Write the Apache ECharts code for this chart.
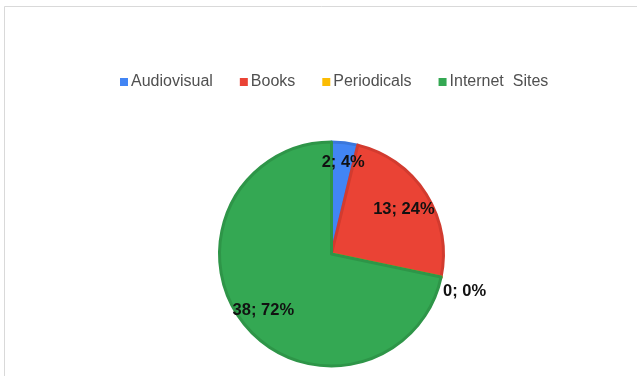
<!DOCTYPE html>
<html>
<head>
<meta charset="utf-8">
<style>
  html, body { margin: 0; padding: 0; background: #ffffff; }
  #chart { width: 637px; height: 376px; }
</style>
<script src="https://cdn.jsdelivr.net/npm/echarts@6/dist/echarts.min.js"></script>
</head>
<body>
<div id="chart"></div>
<script>
// Resource types and their counts
const categories = ['Audiovisual', 'Books', 'Periodicals', 'Internet  Sites'];
const counts = [2, 13, 0, 38];
const sliceColors = ['#4285F4', '#EA4335', '#FBBC04', '#34A853'];
const edgeColors = ['#3b77db', '#d23b2f', '#e0a800', '#2e9548'];

const center = [331.5, 254];
const outerR = 112;

const pieData = categories.map((name, i) => ({
  name: name,
  value: counts[i],
  itemStyle: { color: sliceColors[i], borderColor: edgeColors[i], borderWidth: 3 }
}));

// Transparent ring that only carries the value labels, so they sit near the rim
const labelNudges = [[1, -2], [-4, 4], null, [2, 0]];
const labelData = categories.map((name, i) => {
  const item = {
    name: name,
    value: counts[i],
    itemStyle: { color: 'rgba(0,0,0,0)', borderWidth: 0 }
  };
  if (counts[i] === 0) {
    item.label = { position: 'outside', offset: [-5, 14] };
    item.labelLine = { show: false, length: 2, length2: 0 };
  } else if (labelNudges[i]) {
    item.label = { offset: labelNudges[i] };
  }
  return item;
});

const chart = echarts.init(document.getElementById('chart'), null, { renderer: 'canvas' });
chart.setOption({
  animation: false,
  backgroundColor: '#ffffff',
  graphic: [{
    type: 'rect',
    shape: { x: 4.5, y: 6.5, width: 700, height: 400 },
    style: { fill: 'none', stroke: '#d9d9d9', lineWidth: 1 },
    silent: true
  }],
  legend: {
    data: categories,
    left: 115,
    top: 69,
    icon: 'rect',
    itemWidth: 8,
    itemHeight: 8,
    itemGap: 27,
    itemStyle: { borderWidth: 0 },
    textStyle: { fontFamily: 'Liberation Sans, Arial, sans-serif', fontSize: 16, color: '#505050', padding: [0, 0, 0, -2] }
  },
  series: [
    {
      type: 'pie',
      center: center,
      radius: [0, outerR],
      startAngle: 90,
      clockwise: true,
      avoidLabelOverlap: false,
      stillShowZeroSum: true,
      label: { show: false },
      labelLine: { show: false },
      emphasis: { disabled: true },
      data: pieData
    },
    {
      type: 'pie',
      center: center,
      radius: [outerR * 0.56, outerR],
      startAngle: 90,
      clockwise: true,
      silent: true,
      avoidLabelOverlap: false,
      percentPrecision: 0,
      label: {
        show: true,
        position: 'inside',
        formatter: '{c}; {d}%',
        fontFamily: 'Liberation Sans, Arial, sans-serif',
        fontSize: 16.5,
        fontWeight: 'bold',
        color: '#111111'
      },
      labelLine: { show: false },
      emphasis: { disabled: true },
      data: labelData
    }
  ]
});
</script>
</body>
</html>
